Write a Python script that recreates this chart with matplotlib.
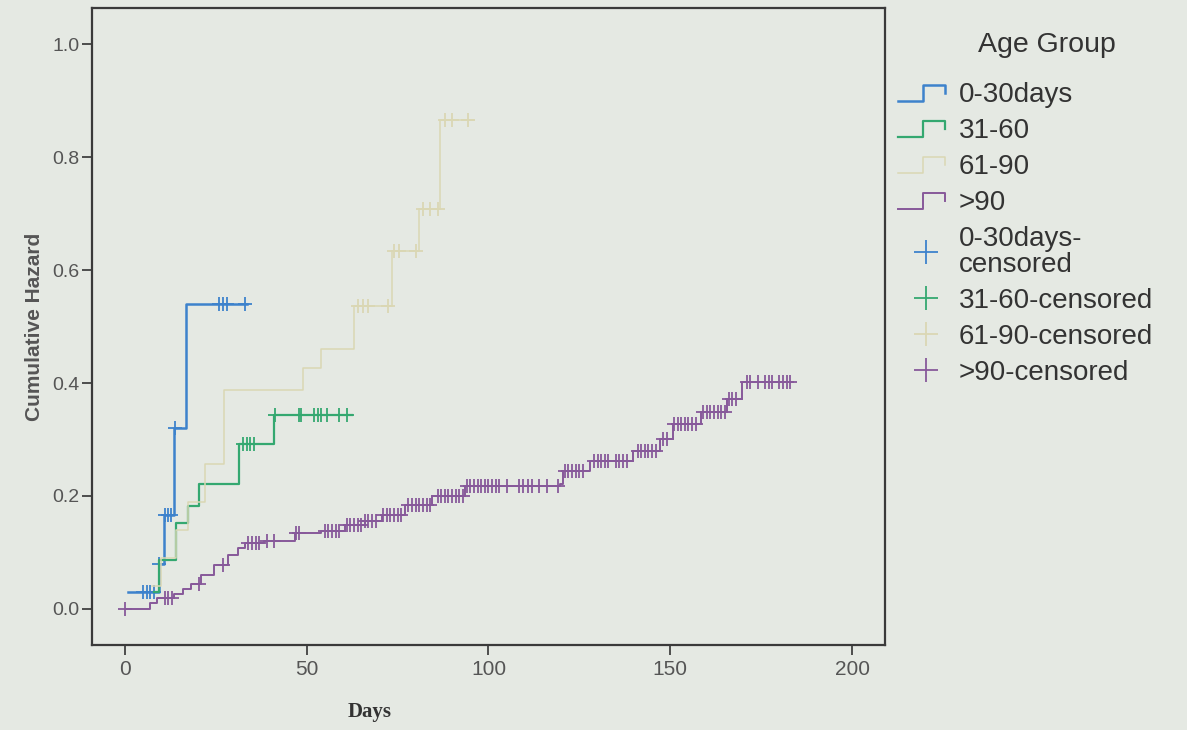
import numpy as np
import matplotlib
matplotlib.use("Agg")
import matplotlib.pyplot as plt
from matplotlib.lines import Line2D
from matplotlib.legend_handler import HandlerBase

plt.rcParams['font.family'] = ['Liberation Sans', 'DejaVu Sans']

# step curves: event times (days) and cumulative hazard after each step
t_0_30 = [1, 9.3, 10.8, 13.5, 16.8, 33.5]
h_0_30 = [0.03, 0.08, 0.166, 0.32, 0.54, 0.54]
c_0_30 = [5, 6, 7, 8, 9.3, 11, 12, 12.7, 13.8, 26, 27, 28, 33]

t_31_60 = [8, 9.4, 14, 17.4, 20.4, 31.5, 41, 62.5]
h_31_60 = [0.03, 0.086, 0.152, 0.183, 0.222, 0.292, 0.343, 0.343]
c_31_60 = [32.5, 33.5, 34.5, 35.5, 41.2, 47.8, 48.6, 52, 53, 54, 55.5, 59, 61]

t_61_90 = [7.5, 10, 14, 17.5, 22, 27.3, 49, 54, 63, 73.5, 81, 86.7, 96]
h_61_90 = [0.04, 0.09, 0.14, 0.19, 0.257, 0.388, 0.427, 0.46, 0.537, 0.633, 0.708, 0.865, 0.865]
c_61_90 = [64, 65.5, 67, 72.5, 74, 75.5, 80, 82, 84, 86, 88, 90, 94.5]

t_90 = [0, 7, 9, 13.5, 16, 18.2, 21, 24.6, 28.5, 31.2, 33, 38.4, 46.7, 54, 60.5, 66, 70.7,
        77, 84.5, 93.6, 119.6, 120.4, 127.9, 139.8, 147.2, 150.8, 158.3, 165.5, 169.6, 183.4]
h_90 = [0.0, 0.01, 0.02, 0.026, 0.035, 0.044, 0.06, 0.078, 0.096, 0.108, 0.117, 0.12, 0.134,
        0.138, 0.148, 0.155, 0.166, 0.184, 0.2, 0.217, 0.222, 0.245, 0.262, 0.28, 0.3, 0.327,
        0.348, 0.371, 0.402, 0.402]
c_90 = [0, 11, 12, 13, 20.5, 27, 34, 35, 36, 37, 39, 41, 47, 48, 55, 56, 57, 58, 59,
        61, 62, 63, 64, 65, 66, 67, 68, 69, 71, 72, 73, 74, 75, 76,
        78, 79, 80, 81, 82, 83, 84, 86, 87, 88, 89, 90, 91, 92, 93,
        94, 95, 96, 97, 98, 99, 100, 101, 102, 103, 105, 108.5, 109.5, 111, 112, 114, 116, 119,
        121, 122, 123, 124, 125, 126, 129, 130, 131, 132, 133, 135, 136, 137, 138,
        141, 142, 143, 144, 145, 146, 148, 149, 151, 152, 153, 154, 155, 156, 157,
        159, 160, 161, 162, 163, 164, 165, 166, 167, 168,
        171, 172, 174, 176, 177, 178, 180, 181, 182, 183]

groups = ['0-30days', '31-60', '61-90', '>90']
colors = ['#3d82cc', '#34a870', '#dad7b4', '#87599a']
series = [(t_0_30, h_0_30, c_0_30), (t_31_60, h_31_60, c_31_60),
          (t_61_90, h_61_90, c_61_90), (t_90, h_90, c_90)]
widths = [1.8, 1.6, 1.1, 1.4]

bg = '#e5e9e3'


class StepHandler(HandlerBase):
    # little step icon like in SPSS legends
    def create_artists(self, legend, orig_handle, xdescent, ydescent,
                       width, height, fontsize, trans):
        xs = np.array([0.0, 0.45, 0.45, 0.85, 0.85]) * width - xdescent
        ys = np.array([0.05, 0.05, 0.85, 0.85, 0.45]) * height - ydescent
        ln = Line2D(xs, ys, color=orig_handle.get_color(),
                    lw=orig_handle.get_linewidth())
        ln.set_transform(trans)
        return [ln]


fig = plt.figure(figsize=(11.87, 7.30), dpi=100, facecolor=bg)
ax = fig.add_axes([0.0775, 0.1164, 0.668, 0.8726], facecolor=bg)

line_handles = []
cens_handles = []
for (t, h, c), col, lw in zip(series, colors, widths):
    ln, = ax.step(t, h, where='post', color=col, lw=lw)
    idx = np.searchsorted(t, c, side='right') - 1
    ch = np.array(h)[np.clip(idx, 0, len(h) - 1)]
    ax.plot(c, ch, ls='none', marker='+', ms=10, mew=1.3, color=col)
    line_handles.append(ln)
    cens_handles.append(Line2D([], [], ls='none', marker='+', ms=17, mew=1.3, color=col))

ax.set_xlim(-9, 209)
ax.set_ylim(-0.064, 1.064)
ax.set_xticks([0, 50, 100, 150, 200])
ax.set_yticks([0.0, 0.2, 0.4, 0.6, 0.8, 1.0])
ax.set_yticklabels(['0.0', '0.2', '0.4', '0.6', '0.8', '1.0'])
ax.tick_params(axis='both', direction='out', length=7, width=1.2, color='#333333',
               labelcolor='#555555', top=False, right=False)
ax.tick_params(axis='y', labelsize=14, pad=2)
ax.tick_params(axis='x', labelsize=15, pad=4)
for s in ax.spines.values():
    s.set_color('#3a3a3a')
    s.set_linewidth(1.6)

ax.set_ylabel('Cumulative Hazard', fontsize=15, fontweight='bold', color='#555555', labelpad=6)
fig.text(370 / 1187, 1 - 712 / 730, 'Days', fontsize=15, fontweight='bold',
         family='Liberation Serif', color='#333333', ha='center', va='center')

fig.text(1047 / 1187, 1 - 45 / 730, 'Age Group', fontsize=20.5, color='#333333',
         ha='center', va='center')

labels = groups + ['0-30days-\ncensored', '31-60-censored', '61-90-censored', '>90-censored']
leg = fig.legend(line_handles + cens_handles, labels,
                 handler_map={h: StepHandler() for h in line_handles},
                 loc='upper left', bbox_to_anchor=(884 / 1187, 1 - 68 / 730),
                 frameon=False, fontsize=20,
                 handlelength=2.0, handletextpad=0.2, labelspacing=0.36,
                 borderpad=0.0)
for tx in leg.get_texts():
    tx.set_color('#333333')
    tx.set_linespacing(1.0)

fig.savefig('out.png', dpi=100, facecolor=bg)
